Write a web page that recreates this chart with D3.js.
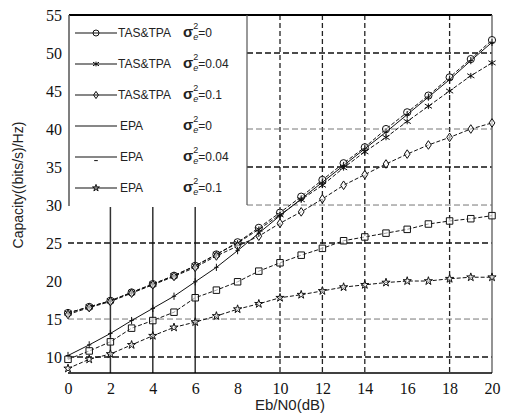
<!DOCTYPE html>
<html>
<head>
<meta charset="utf-8">
<script src="https://cdn.jsdelivr.net/npm/d3@7/dist/d3.min.js"></script>
<style>
  body { margin: 0; background: #fff; }
  svg { display: block; }
</style>
</head>
<body>
<div class="chart"></div>
<script>
// x values (Eb/N0 in dB)
var snr = [0,1,2,3,4,5,6,7,8,9,10,11,12,13,14,15,16,17,18,19,20];

// capacity values
var tasTpa0   = [15.8,16.6,17.4,18.5,19.6,20.7,22.0,23.5,25.1,27.0,29.0,31.1,33.3,35.5,37.6,40.0,42.2,44.4,46.8,49.2,51.7];
var tasTpa004 = [15.8,16.6,17.4,18.5,19.6,20.7,22.0,23.5,25.0,26.8,28.7,30.7,32.6,34.9,37.0,38.9,41.0,43.0,45.0,47.0,48.7];
var tasTpa01  = [15.6,16.5,17.3,18.4,19.5,20.6,21.8,23.3,24.6,25.9,27.6,29.1,30.8,32.6,34.0,35.4,36.7,37.9,38.9,40.0,40.8];
var epa0      = [10.2,11.6,13.1,14.8,16.4,18.0,19.9,21.8,24.0,26.3,28.6,30.8,33.0,35.2,37.4,39.6,41.9,44.2,46.5,49.0,51.4];
var epa004    = [9.7,10.8,12.0,13.8,14.8,15.9,17.8,18.8,19.9,21.3,22.4,23.4,24.3,25.3,25.8,26.3,26.8,27.5,27.9,28.2,28.6];
var epa01     = [8.5,9.7,10.4,11.6,12.8,13.9,14.6,15.4,16.3,17.0,17.8,18.2,18.7,19.2,19.5,19.8,20.0,20.0,20.3,20.5,20.5];

var seriesNames = ['TAS&TPA', 'TAS&TPA', 'TAS&TPA', 'EPA', 'EPA', 'EPA'];
var sigmaValues = ['=0', '=0.04', '=0.1', '=0', '=0.04', '=0.1'];
var markers     = ['circle', 'cross', 'diamond', 'plus', 'square', 'star'];
var legendMarks = ['circle', 'cross', 'diamond', 'none', 'dash', 'star'];
var allSeries   = [tasTpa0, tasTpa004, tasTpa01, epa0, epa004, epa01];

var xTicks = [0,2,4,6,8,10,12,14,16,18,20];
var yTicks = [10,15,20,25,30,35,40,45,50,55];
var xGridSolid  = [2,4,6];
var xGridDashed = [10,12,14,18];
var yGridHeavy  = [10,25,35,50];
var yGridLight  = [15,30,40];

var W = 518, H = 415;
var margin = { top: 15, right: 26, bottom: 42, left: 68 };
var width = W - margin.left - margin.right;
var height = H - margin.top - margin.bottom;

var svg = d3.select('.chart')
  .append('svg')
  .attr('width', W)
  .attr('height', H)
  .append('g')
  .attr('transform', 'translate(' + margin.left + ',' + margin.top + ')');

var xScale = d3.scaleLinear().domain([0, 20]).range([0, width]);
var yScale = d3.scaleLinear().domain([7.9, 55]).range([height, 0]);

// legend box occupies upper left
var legendRight = 179;
var legendBottom = yScale(30);

// grid lines
svg.selectAll('.vsolid')
  .data(xGridSolid)
  .enter()
  .append('line')
  .attr('x1', d => xScale(d)).attr('x2', d => xScale(d))
  .attr('y1', legendBottom + 2).attr('y2', height)
  .style('stroke', '#333').style('stroke-width', 1.5);

svg.selectAll('.vdash')
  .data(xGridDashed)
  .enter()
  .append('line')
  .attr('x1', d => xScale(d)).attr('x2', d => xScale(d))
  .attr('y1', 0).attr('y2', height)
  .style('stroke', '#222').style('stroke-width', 1.3)
  .style('stroke-dasharray', '5,3');

function hStart(v) { return v >= 30 ? legendRight : 0; }

svg.selectAll('.hheavy')
  .data(yGridHeavy)
  .enter()
  .append('line')
  .attr('x1', d => hStart(d)).attr('x2', width)
  .attr('y1', d => yScale(d)).attr('y2', d => yScale(d))
  .style('stroke', '#111').style('stroke-width', 1.4)
  .style('stroke-dasharray', '6,3');

svg.selectAll('.hlight')
  .data(yGridLight)
  .enter()
  .append('line')
  .attr('x1', d => hStart(d)).attr('x2', width)
  .attr('y1', d => yScale(d)).attr('y2', d => yScale(d))
  .style('stroke', '#777').style('stroke-width', 1)
  .style('stroke-dasharray', '6,3');

// frame
svg.append('line').attr('x1', 1).attr('x2', width).attr('y1', 0).attr('y2', 0)
  .style('stroke', '#000').style('stroke-width', 2.2);
svg.append('line').attr('x1', width).attr('x2', width).attr('y1', 0).attr('y2', height)
  .style('stroke', '#666').style('stroke-width', 1.4);
svg.append('line').attr('x1', 0).attr('x2', width).attr('y1', height).attr('y2', height)
  .style('stroke', '#000').style('stroke-width', 1.6);
svg.append('line').attr('x1', 1).attr('x2', 1).attr('y1', 0).attr('y2', legendBottom + 1)
  .style('stroke', '#555').style('stroke-width', 1.5);
svg.append('line').attr('x1', legendRight).attr('x2', legendRight).attr('y1', 0).attr('y2', legendBottom)
  .style('stroke', '#555').style('stroke-width', 1.2);

// marker shapes
function markerPath(type, s) {
  var p = d3.path();
  var r = s;
  if (type === 'circle') {
    p.moveTo(r, 0); p.arc(0, 0, r, 0, 2 * Math.PI);
  } else if (type === 'cross') {
    p.moveTo(-r, -r * 0.6); p.lineTo(r, r * 0.6);
    p.moveTo(-r, r * 0.6); p.lineTo(r, -r * 0.6);
    p.moveTo(0, -r * 0.8); p.lineTo(0, r * 0.8);
  } else if (type === 'diamond') {
    p.moveTo(0, -r * 1.2); p.lineTo(r * 0.8, 0); p.lineTo(0, r * 1.2); p.lineTo(-r * 0.8, 0); p.closePath();
  } else if (type === 'plus') {
    p.moveTo(0, -r); p.lineTo(0, r);
    p.moveTo(-r * 0.6, 0); p.lineTo(r * 0.6, 0);
  } else if (type === 'square') {
    p.rect(-r * 0.9, -r * 0.9, r * 1.8, r * 1.8);
  } else if (type === 'dash') {
    p.moveTo(-r * 0.6, r * 1.2); p.lineTo(r * 0.6, r * 1.2);
  } else if (type === 'star') {
    var pts = [];
    for (var i = 0; i < 10; i++) {
      var a = -Math.PI / 2 + i * Math.PI / 5;
      var rr = i % 2 === 0 ? r * 1.2 : r * 0.45;
      pts.push([rr * Math.cos(a), rr * Math.sin(a)]);
    }
    p.moveTo(pts[0][0], pts[0][1]);
    pts.slice(1).forEach(q => p.lineTo(q[0], q[1]));
    p.closePath();
  }
  return p.toString();
}

var line = d3.line()
  .x(d => xScale(d[0]))
  .y(d => yScale(d[1]));

allSeries.forEach(function (vals, i) {
  var pts = snr.map((x, j) => [x, vals[j]]);
  svg.append('path')
    .attr('class', 'line')
    .attr('d', line(pts))
    .style('fill', 'none')
    .style('stroke', '#111')
    .style('stroke-width', 1)
    .style('stroke-dasharray', i === 3 ? null : '4,2');

  svg.selectAll('.m' + i)
    .data(pts)
    .enter()
    .append('path')
    .attr('class', 'm' + i)
    .attr('transform', d => 'translate(' + xScale(d[0]) + ',' + yScale(d[1]) + ')')
    .attr('d', markerPath(markers[i], 3.6))
    .style('fill', markers[i] === 'circle' || markers[i] === 'diamond' || markers[i] === 'square' || markers[i] === 'star' ? 'white' : 'none')
    .style('fill-opacity', 0.6)
    .style('stroke', '#111')
    .style('stroke-width', 1);
});

// axes (labels only)
var xAxis = svg.append('g')
  .attr('transform', 'translate(0,' + height + ')')
  .call(d3.axisBottom(xScale).tickValues(xTicks).tickSize(0).tickPadding(10));
xAxis.select('.domain').remove();
xAxis.selectAll('text')
  .style('font-family', '"Liberation Serif", serif')
  .style('font-size', '16px')
  .style('fill', '#111');

var yAxis = svg.append('g')
  .call(d3.axisLeft(yScale).tickValues(yTicks).tickSize(0).tickPadding(6));
yAxis.select('.domain').remove();
yAxis.selectAll('text')
  .style('font-family', '"Liberation Serif", serif')
  .style('font-size', '16px')
  .style('fill', '#111');

// axis titles
svg.append('text')
  .attr('x', width / 2 + 10)
  .attr('y', height + 37)
  .style('text-anchor', 'middle')
  .style('font-family', '"Liberation Sans", sans-serif')
  .style('font-size', '15px')
  .style('fill', '#222')
  .text('Eb/N0(dB)');

svg.append('text')
  .attr('transform', 'translate(' + (-45) + ',' + (yScale(30) - 20) + ') rotate(-90)')
  .style('text-anchor', 'middle')
  .style('font-family', '"Liberation Sans", sans-serif')
  .style('font-size', '14px')
  .style('fill', '#222')
  .text('Capacity((bits/s)/Hz)');

// legend
var legendRows = d3.range(6).map(i => 18 + i * 31);
legendRows.forEach(function (ly, i) {
  var g = svg.append('g').attr('transform', 'translate(0,' + ly + ')');
  g.append('line').attr('x1', 7).attr('x2', 49).attr('y1', 0).attr('y2', 0)
    .style('stroke', '#111').style('stroke-width', 1.2);
  if (legendMarks[i] !== 'none') {
    g.append('path')
      .attr('transform', 'translate(28,0)')
      .attr('d', markerPath(legendMarks[i], 3))
      .style('fill', 'none')
      .style('stroke', '#111')
      .style('stroke-width', 1);
  }
  g.append('text')
    .attr('x', i < 3 ? 50 : 52)
    .attr('y', 4)
    .style('font-family', '"Liberation Sans", sans-serif')
    .style('font-size', '12px')
    .style('fill', '#222')
    .text(seriesNames[i]);
  var t = g.append('text')
    .attr('x', 115)
    .attr('y', 4)
    .style('font-family', '"Liberation Sans", sans-serif')
    .style('fill', '#222');
  t.append('tspan').style('font-size', '15px').style('font-weight', 'bold').text('\u03c3');
  t.append('tspan').attr('dx', 0).attr('dy', -8).style('font-size', '9px').text('2');
  t.append('tspan').attr('dx', -5).attr('dy', 11).style('font-size', '9px').style('font-style', 'italic').text('e');
  t.append('tspan').attr('dy', -3).style('font-size', '12px').text(sigmaValues[i]);
});
</script>
</body>
</html>
